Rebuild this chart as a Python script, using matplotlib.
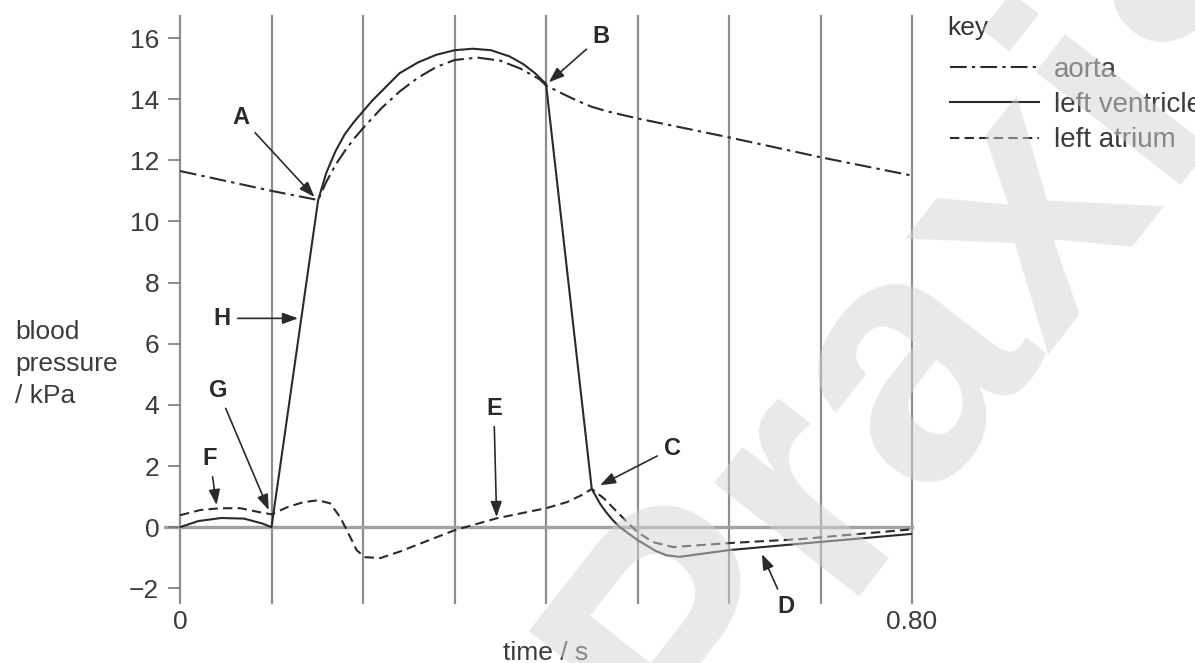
import matplotlib.pyplot as plt
import numpy as np

plt.rcParams['font.family'] = ['Liberation Sans', 'DejaVu Sans']

# pressure traces over one cardiac cycle (time in s, pressure in kPa)
aorta_t = [0.00, 0.10, 0.151, 0.16, 0.17, 0.18, 0.19, 0.20, 0.22, 0.24, 0.26, 0.28,
           0.30, 0.325, 0.35, 0.372, 0.393, 0.40, 0.42, 0.434, 0.45, 0.467, 0.50,
           0.60, 0.70, 0.80]
aorta_p = [11.65, 11.0, 10.7, 11.3, 11.85, 12.3, 12.7, 13.05, 13.7, 14.25, 14.7, 15.05,
           15.28, 15.36, 15.26, 15.0, 14.65, 14.45, 14.15, 13.95, 13.75, 13.6, 13.37,
           12.75, 12.1, 11.5]

ventricle_t = [0.00, 0.02, 0.045, 0.07, 0.09, 0.10, 0.151, 0.16, 0.17, 0.18, 0.19,
               0.20, 0.21, 0.22, 0.23, 0.24, 0.26, 0.28, 0.30, 0.32, 0.34, 0.36,
               0.375, 0.388, 0.40, 0.45, 0.459, 0.466, 0.473, 0.48, 0.488, 0.50,
               0.51, 0.52, 0.532, 0.546, 0.60, 0.678, 0.80]
ventricle_p = [0.0, 0.2, 0.3, 0.28, 0.12, 0.0, 10.7, 11.6, 12.3, 12.85, 13.25,
               13.6, 13.95, 14.25, 14.55, 14.85, 15.2, 15.45, 15.6, 15.65, 15.6, 15.4,
               15.15, 14.85, 14.5, 1.25, 0.77, 0.48, 0.23, 0.02, -0.16, -0.42,
               -0.6, -0.78, -0.92, -0.97, -0.75, -0.54, -0.22]

atrium_t = [0.00, 0.022, 0.044, 0.066, 0.087, 0.10, 0.117, 0.135, 0.151, 0.164, 0.175,
            0.184, 0.193, 0.202, 0.219, 0.24, 0.27, 0.30, 0.346, 0.40, 0.423, 0.439,
            0.45, 0.463, 0.478, 0.492, 0.50, 0.517, 0.539, 0.60, 0.678, 0.80]
atrium_p = [0.39, 0.56, 0.62, 0.62, 0.49, 0.42, 0.65, 0.82, 0.88, 0.78, 0.33,
            -0.2, -0.75, -0.98, -1.01, -0.8, -0.45, -0.1, 0.29, 0.62, 0.82, 1.05,
            1.25, 0.95, 0.49, 0.07, -0.16, -0.49, -0.65, -0.52, -0.39, -0.07]

grid_times = np.arange(0, 0.81, 0.1)
pressure_ticks = np.arange(-2, 17, 2)

ink = '#2a2a2a'
text_col = '#3c3c3c'
rule_col = '#8e8e8e'

fig = plt.figure(figsize=(11.95, 6.63), dpi=100)
ax = fig.add_axes([180 / 1195, 1 - 603 / 663, 732 / 1195, 587 / 663])
ax.set_xlim(0, 0.8)
ax.set_ylim(-2.48, 16.72)

for t in grid_times:
    ax.axvline(t, color=rule_col, lw=1.6, clip_on=False, zorder=1)
ax.axhline(0, xmin=-0.02, xmax=1, color='#a2a2a2', lw=2.4, clip_on=False, zorder=1)

l_aorta, = ax.plot(aorta_t, aorta_p, color=ink, lw=1.5,
                   linestyle=(0, (8, 2.5, 1.6, 2.5)), zorder=3, label='aorta')
l_vent, = ax.plot(ventricle_t, ventricle_p, color=ink, lw=1.5,
                  zorder=3, label='left ventricle')
l_atr, = ax.plot(atrium_t, atrium_p, color=ink, lw=1.5,
                 linestyle=(0, (4.5, 2.5)), zorder=3, label='left atrium')

for s in ax.spines.values():
    s.set_visible(False)

ax.set_yticks(pressure_ticks)
ax.tick_params(axis='y', length=9, width=1.2, color='#777777', pad=6,
               labelsize=19, labelcolor=text_col)
ax.set_xticks([0, 0.8])
ax.set_xticklabels(['0', '0.80'])
ax.tick_params(axis='x', length=0, pad=5, labelsize=19, labelcolor=text_col)
ax.set_xlabel('time / s', fontsize=19, color=text_col, labelpad=5)

fig.text(15 / 1195, 1 - 364 / 663, 'blood\npressure\n/ kPa', ha='left', va='center',
         fontsize=19, color=text_col, linespacing=1.42)

# lettered call-outs: (label, text position, arrow tip)
callouts = [
    ('A', (0.0667, 13.40), (0.147, 10.8)),
    ('B', (0.460, 16.05), (0.403, 14.55)),
    ('C', (0.538, 2.58), (0.459, 1.37)),
    ('D', (0.662, -2.61), (0.636, -0.88)),
    ('E', (0.343, 3.89), (0.346, 0.33)),
    ('F', (0.0328, 2.25), (0.040, 0.72)),
    ('G', (0.0415, 4.48), (0.097, 0.56)),
    ('H', (0.046, 6.83), (0.129, 6.83)),
]
for name, txt, tip in callouts:
    ax.annotate(name, xy=tip, xytext=txt, ha='center', va='center',
                fontsize=17, fontweight='bold', color=ink, zorder=5,
                arrowprops=dict(arrowstyle='-|>,head_length=0.55,head_width=0.2',
                                color=ink, lw=1.2, shrinkA=3, shrinkB=0))

fig.text(947 / 1195, 1 - 28 / 663, 'key', ha='left', va='center',
         fontsize=19, color='#333333')
leg = fig.legend(handles=[l_aorta, l_vent, l_atr], loc='upper left',
                 bbox_to_anchor=(950 / 1195, 1 - 57 / 663), frameon=False,
                 fontsize=20, handlelength=3.2, handletextpad=0.55,
                 labelspacing=0.33, borderpad=0, borderaxespad=0)
for t in leg.get_texts():
    t.set_color(text_col)

fig.text(0.79, 0.53, 'Praxis', ha='center', va='center', rotation=52,
         fontsize=250, fontweight='bold', color='#d4d4d4', alpha=0.5, zorder=10)

fig.savefig('out.png', dpi=100)
